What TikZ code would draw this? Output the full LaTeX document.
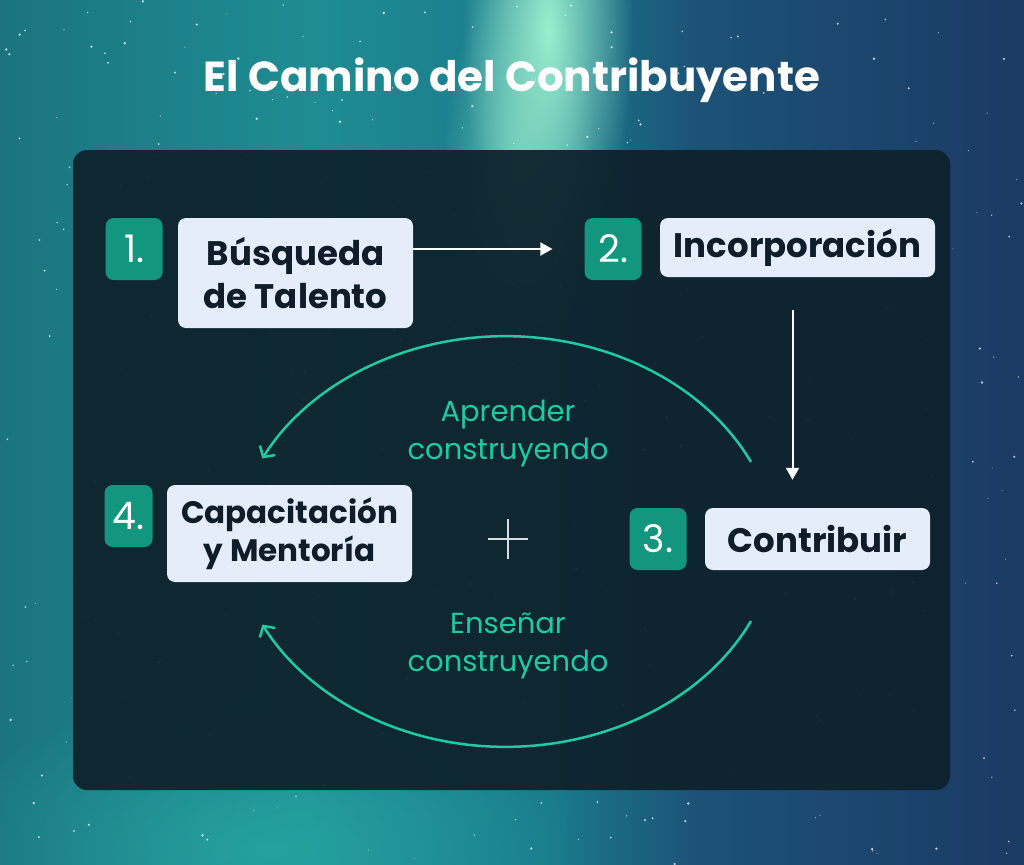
\documentclass[tikz,border=0pt]{standalone}
\usepackage{fontspec}
\setmainfont{Poppins}
\usetikzlibrary{positioning, arrows.meta, fadings}
\definecolor{skyA}{HTML}{1B7480}
\definecolor{skyB}{HTML}{1F8C92}
\definecolor{skyC}{HTML}{1A7A8C}
\definecolor{skyD}{HTML}{1C5276}
\definecolor{skyE}{HTML}{1B3A64}
\definecolor{mint}{HTML}{9CEFCF}
\definecolor{glow}{HTML}{2BB5AD}
\definecolor{panel}{HTML}{0E222C}
\definecolor{boxfill}{HTML}{E4EDF9}
\definecolor{boxtext}{HTML}{0F1D2B}
\definecolor{numfill}{HTML}{12967D}
\definecolor{loopgreen}{HTML}{1FCBA2}
\definecolor{crossgray}{HTML}{D5DCE2}
\pgfdeclarehorizontalshading{sky}{100bp}{color(0bp)=(skyA); color(25bp)=(skyA);
  color(40bp)=(skyB); color(52bp)=(skyC); color(59bp)=(skyD); color(75bp)=(skyE); color(100bp)=(skyE)}
\tikzfading[name=softglow, inner color=transparent!0, outer color=transparent!100]
\def\gap{15pt}
\tikzset{labbox/.style={fill=boxfill, text=boxtext, rounded corners=8pt, inner sep=0pt,
    align=center, font=\bfseries\fontsize{34}{43}\selectfont},
  numbox/.style={fill=numfill, text=white, rounded corners=8pt, inner sep=0pt,
    minimum width=57pt, minimum height=62pt, font=\fontsize{38}{40}\selectfont},
  flowarrow/.style={white, line width=2pt, -{Triangle[length=12pt, width=13pt]}},
  looparc/.style={loopgreen, line width=2.5pt, -{Straight Barb[length=8pt, width=18pt]}},
  looptext/.style={text=loopgreen, align=center, font=\fontsize{29}{38}\selectfont}}

\begin{document}
\begin{tikzpicture}[x=1pt, y=-1pt]
  % Background
  \useasboundingbox (0,0) rectangle (1024,864);
  \shade[shading=sky] (0,0) rectangle (1024,864);
  \fill[mint, path fading=softglow] (548,30) ellipse (85 and 260);
  \fill[mint, path fading=softglow, fill opacity=0.6] (518,170) ellipse (75 and 200);
  \fill[glow, path fading=softglow, fill opacity=0.55] (260,850) ellipse (330 and 160);
  \pgfmathsetseed{42}
  \foreach \i in {1,...,360}{
    \pgfmathsetmacro{\sx}{1024*rnd}
    \pgfmathsetmacro{\sy}{864*rnd}
    \pgfmathsetmacro{\sr}{0.4+1*rnd}
    \fill[white, opacity=0.7] (\sx,\sy) circle (\sr);
  }
  \fill[panel, fill opacity=0.94, rounded corners=14pt] (73,150) rectangle (950,790);

  % Title
  \node[text=white, font=\bfseries\fontsize{42}{50}\selectfont] (title) at (512,80) {El Camino del Contribuyente};

  % Steps
  \node[labbox, minimum width=235pt, minimum height=110pt] (busq) at (295.5,273) {Búsqueda\\de Talento};
  \node[numbox, left=\gap of busq.north west, anchor=north east] (n1) {1.};
  \node[labbox, minimum width=275pt, minimum height=59pt] (incorp) at (797.5,247.5) {Incorporación};
  \node[numbox, left=18pt of incorp.north west, anchor=north east] (n2) {2.};
  \node[labbox, minimum width=225pt, minimum height=62pt] (contrib) at (817.5,539) {Contribuir};
  \node[numbox, left=18pt of contrib.north west, anchor=north east] (n3) {3.};
  \node[labbox, minimum width=245pt, minimum height=97pt, font=\bfseries\fontsize{31}{38}\selectfont]
    (capac) at (289.5,533.5) {Capacitación\\y Mentoría};
  \node[numbox, minimum width=48pt, left=14pt of capac.north west, anchor=north east] (n4) {4.};

  \draw[flowarrow, shorten >=32pt] (busq.east |- n2.west) -- (n2.west);
  \draw[flowarrow, shorten <=33pt, shorten >=28pt] ([xshift=-5pt]incorp.south) -- ([xshift=-5pt]incorp.south |- contrib.north);

  % Learn / teach loop
  \coordinate (topR) at (751,462);
  \coordinate (botR) at (751,621);
  \draw[looparc] (topR) arc[start angle=-26, end angle=-153, x radius=273, y radius=224];
  \draw[looparc] (botR) arc[start angle=26, end angle=153, x radius=273, y radius=224];
  \node[looptext] (learn) at (508,434) {Aprender\\construyendo};
  \node[looptext] (teach) at (508,646) {Enseñar\\construyendo};

  \coordinate (plus) at (508,539);
  \draw[crossgray, line width=1.5pt] ([xshift=-20pt]plus) -- ([xshift=20pt]plus)
    ([yshift=-20pt]plus) -- ([yshift=20pt]plus);
\end{tikzpicture}
\end{document}
